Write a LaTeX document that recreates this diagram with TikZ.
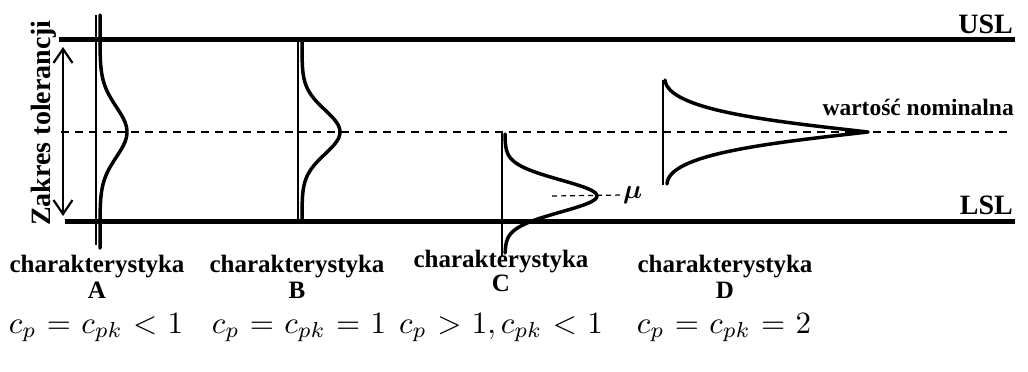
\documentclass[tikz,border=0pt]{standalone}
\usepackage{graphicx}
\usepackage{fontspec}
\setmainfont{Liberation Serif}
\usepackage{bm}
\usetikzlibrary{positioning,arrows.meta}
\newcommand\cpkform[1]{\scalebox{3.1}{$\thickmuskip=6mu\relax #1$}}
\tikzset{
  limit/.style={line width=5pt},
  thinaxis/.style={line width=1.3pt},
  curve/.style={line width=3.5pt, line cap=round, line join=round},
  nomline/.style={line width=1.3pt, dash pattern=on 8pt off 6pt},
  lbl/.style={font=\bfseries\fontsize{25}{26}\selectfont, inner sep=0pt},
  cpk/.style={inner sep=0pt, anchor=base},
}
\begin{document}
\begin{tikzpicture}[x=1pt, y=-1pt]
  \useasboundingbox (0,0) rectangle (1028,372);

  \coordinate (uslL) at (59,39);
  \coordinate (uslR) at (1015,39);
  \coordinate (lslL) at (65,221);
  \coordinate (lslR) at (1015,221);
  \coordinate (nomL) at (61,132);
  \coordinate (nomR) at (1010,132);

  \draw[nomline] (nomL) -- (nomR);
  \draw[limit] (uslL) -- (uslR);
  \draw[limit] (lslL) -- (lslR);

  \node[lbl, font=\bfseries\fontsize{28}{30}\selectfont, anchor=base east] (usl) at (1013,33) {USL};
  \node[lbl, font=\bfseries\fontsize{28}{30}\selectfont, anchor=base east] (lsl) at (1013,214) {LSL};
  \node[lbl, font=\bfseries\fontsize{23.5}{26}\selectfont, anchor=base east] (nom) at (1014,115) {wartość nominalna};

  \node[lbl, font=\bfseries\fontsize{28}{30}\selectfont, rotate=90, anchor=base] (zakres) at (50,123) {Zakres tolerancji};
  \coordinate (tolTop) at (63,47);
  \coordinate (tolBot) at (63,216);
  \draw[{Straight Barb[length=14pt,width=19pt]}-{Straight Barb[length=14pt,width=19pt]}, line width=2.2pt] (tolTop) -- (tolBot);

  % A
  \draw[thinaxis] (96,15) -- (96,245);
  \draw[curve] plot[domain=15:248, samples=80, variable=\t, smooth] ({100+27*exp(-((\t-132)^2)/1250)}, \t);
  % B
  \draw[thinaxis] (298,40) -- (298,220);
  \draw[curve] plot[domain=42:220, samples=70, variable=\t, smooth] ({302+38*exp(-((\t-132)^2)/968)}, \t);
  % C
  \draw[thinaxis] (502,132) -- (502,257);
  \draw[curve] plot[domain=134:253, samples=70, variable=\t, smooth] ({505+92*exp(-((\t-196)^2)/512)}, \t);
  \coordinate (muL) at (552,196);
  \node[inner sep=0pt, anchor=west] (mu) at (623,195) {\scalebox{2.7}{$\bm{\mu}$}};
  \draw[line width=1.2pt, dash pattern=on 5pt off 4pt] (muL) -- (mu.west);
  % D
  \draw[thinaxis] (663,80) -- (663,185);
  \draw[curve] (665,80) .. controls (668,110) and (770,121) .. (868,132)
               .. controls (770,143) and (668,154) .. (667,184);

  \node[lbl, anchor=base] (charA) at (97,272) {charakterystyka};
  \node[lbl, below=4pt of charA] (labA) {A};
  \node[lbl, anchor=base] (charB) at (297,272) {charakterystyka};
  \node[lbl, below=4pt of charB] (labB) {B};
  \node[lbl, anchor=base] (charC) at (501,267) {charakterystyka};
  \node[lbl, below=2pt of charC] (labC) {C};
  \node[lbl, anchor=base] (charD) at (725,272) {charakterystyka};
  \node[lbl, below=4pt of charD] (labD) {D};

  \node[cpk] (cpA) at (96,333) {\cpkform{c_p = c_{pk} < 1}};
  \node[cpk] (cpB) at (299,333) {\cpkform{c_p = c_{pk} = 1}};
  \node[cpk] (cpC) at (501,333) {\cpkform{c_p > 1{,}\, c_{pk} < 1}};
  \node[cpk] (cpD) at (724,333) {\cpkform{c_p = c_{pk} = 2}};
\end{tikzpicture}
\end{document}
